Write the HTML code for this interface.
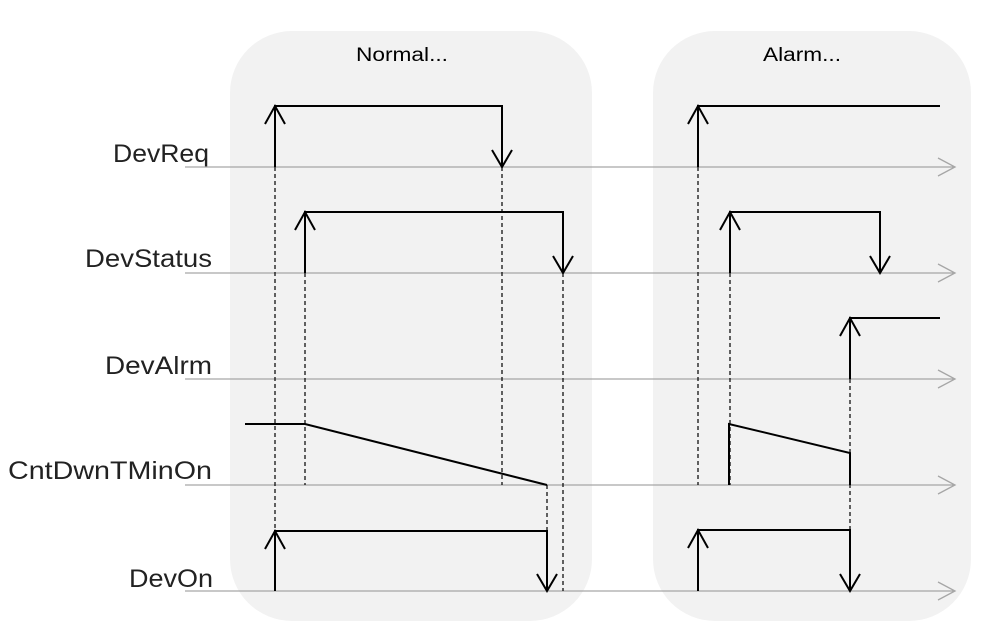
<!DOCTYPE html>
<html><head><style>body{margin:0;background:#fff}svg{display:block}</style></head><body>
<svg width="984" height="627" viewBox="0 0 984 627" xmlns="http://www.w3.org/2000/svg" font-family="Liberation Sans, sans-serif">
<rect x="230" y="31" width="362" height="590" rx="62" fill="#f2f2f2"/>
<rect x="653" y="31" width="318" height="590" rx="62" fill="#f2f2f2"/>
<text x="356" y="61" font-size="19" textLength="92" lengthAdjust="spacingAndGlyphs">Normal...</text>
<text x="763" y="61" font-size="19" textLength="78" lengthAdjust="spacingAndGlyphs">Alarm...</text>
<g font-size="25" fill="#222">
<text x="113" y="162" textLength="96" lengthAdjust="spacingAndGlyphs">DevReq</text>
<text x="85" y="267" textLength="127" lengthAdjust="spacingAndGlyphs">DevStatus</text>
<text x="105" y="374" textLength="107" lengthAdjust="spacingAndGlyphs">DevAlrm</text>
<text x="8" y="479" textLength="204" lengthAdjust="spacingAndGlyphs">CntDwnTMinOn</text>
<text x="129" y="587" textLength="84" lengthAdjust="spacingAndGlyphs">DevOn</text>
</g>
<g stroke="#a6a6a6" stroke-width="1.3" fill="none">
<path d="M185 167H955M938 158L955 167L938 176"/>
<path d="M185 273H955M938 264L955 273L938 282"/>
<path d="M185 379H955M938 370L955 379L938 388"/>
<path d="M185 485H955M938 476L955 485L938 494"/>
<path d="M185 591H955M938 582L955 591L938 600"/>
</g>
<g stroke="#000" stroke-width="1.2" stroke-dasharray="4,3" fill="none">
<path d="M275 167V591M305 273V485M502 167V485M563 273V591M547 485V591M698 167V485M730 273V485M850 379V591"/>
</g>
<g stroke="#000" stroke-width="2" fill="none">
<path d="M275 167V106H502V167M265 124L275 106L285 124M492 150L502 167L512 150"/>
<path d="M305 273V212H563V273M295 230L305 212L315 230M553 256L563 273L573 256"/>
<path d="M245 424H305L547 485"/>
<path d="M275 591V531H547V591M265 549L275 531L285 549M537 574L547 591L557 574"/>
<path d="M698 167V106H940M688 124L698 106L708 124"/>
<path d="M730 273V212H880V273M720 230L730 212L740 230M870 256L880 273L890 256"/>
<path d="M850 379V318H940M840 336L850 318L860 336"/>
<path d="M729 485V424L850 453V485"/>
<path d="M698 591V530H850V591M688 548L698 530L708 548M840 574L850 591L860 574"/>
</g>
</svg>
</body></html>
